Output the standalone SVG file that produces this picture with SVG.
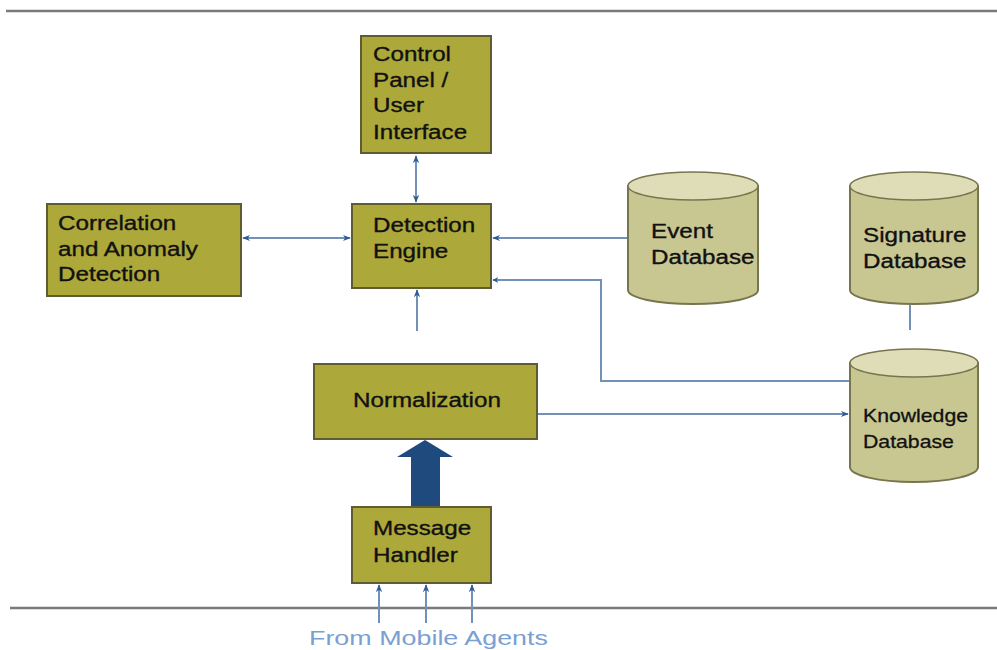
<svg xmlns="http://www.w3.org/2000/svg" width="997" height="650" viewBox="0 0 997 650">
  <style>
    .box { fill: #ADA83A; stroke: #5E5C30; stroke-width: 2; }
    .cyl { fill: #C9C791; stroke: #77754D; stroke-width: 2; }
    .cyltop { fill: #DEDDB7; stroke: #77754D; stroke-width: 1.5; }
    .lbl { font-family: "Liberation Sans", Arial, sans-serif; font-size: 20px; fill: #111; stroke: #111; stroke-width: 0.35; }
    .lbl-s { font-family: "Liberation Sans", Arial, sans-serif; font-size: 18px; fill: #111; stroke: #111; stroke-width: 0.3; }
    .link { fill: none; stroke: #7191B8; stroke-width: 2; }
    .rule { stroke: #7A7A7A; stroke-width: 2.5; }
    .src { font-family: "Liberation Sans", Arial, sans-serif; font-size: 21px; fill: #7A9FD2; }
  </style>
  <defs>
    <marker id="head" viewBox="0 0 10 10" refX="9" refY="5" markerWidth="6" markerHeight="6" orient="auto-start-reverse" markerUnits="userSpaceOnUse">
      <path d="M0,0 L10,5 L0,10 L3,5 Z" fill="#2D5B96"/>
    </marker>
    <marker id="headSmall" viewBox="0 0 10 10" refX="9" refY="5" markerWidth="8" markerHeight="8" orient="auto-start-reverse" markerUnits="userSpaceOnUse">
      <path d="M0,1 L10,5 L0,9 L3,5 Z" fill="#2D5B96"/>
    </marker>
  </defs>

  <!-- frame rules -->
  <line class="rule" x1="6" y1="11" x2="997" y2="11"/>
  <line class="rule" x1="10" y1="608" x2="997" y2="608"/>

  <!-- connectors -->
  <g id="connectors">
    <line class="link" x1="416" y1="156" x2="416" y2="202" marker-start="url(#headSmall)" marker-end="url(#headSmall)"/>
    <line class="link" x1="243" y1="238" x2="350" y2="238" marker-start="url(#headSmall)" marker-end="url(#headSmall)"/>
    <line class="link" x1="628" y1="238" x2="493" y2="238" marker-end="url(#headSmall)"/>
    <polyline class="link" points="850,381 601,381 601,280 493,280" marker-end="url(#head)"/>
    <line class="link" x1="417" y1="331" x2="417" y2="290" marker-end="url(#headSmall)"/>
    <line class="link" x1="538" y1="414" x2="848" y2="414" marker-end="url(#headSmall)"/>
    <line class="link" x1="910" y1="305" x2="910" y2="330"/>
    <line class="link" x1="379" y1="623" x2="379" y2="585" marker-end="url(#headSmall)"/>
    <line class="link" x1="426" y1="623" x2="426" y2="585" marker-end="url(#headSmall)"/>
    <line class="link" x1="472" y1="623" x2="472" y2="585" marker-end="url(#headSmall)"/>
    <!-- block arrow from message handler to normalization -->
    <path d="M411,507 L411,457 L397,457 L425,440 L453,457 L440,457 L440,507 Z" fill="#1F4A7E"/>
  </g>

  <!-- process boxes -->
  <g id="control-panel">
    <rect class="box" x="361" y="36" width="130" height="117"/>
    <text class="lbl" transform="translate(373,61) scale(1.21,1)">Control</text>
    <text class="lbl" transform="translate(373,87) scale(1.21,1)">Panel /</text>
    <text class="lbl" transform="translate(373,112) scale(1.21,1)">User</text>
    <text class="lbl" transform="translate(373,139) scale(1.21,1)">Interface</text>
  </g>

  <g id="correlation">
    <rect class="box" x="47" y="204" width="194" height="92"/>
    <text class="lbl" transform="translate(58,230) scale(1.21,1)">Correlation</text>
    <text class="lbl" transform="translate(58,256) scale(1.21,1)">and Anomaly</text>
    <text class="lbl" transform="translate(58,281) scale(1.21,1)">Detection</text>
  </g>

  <g id="detection-engine">
    <rect class="box" x="352" y="204" width="139" height="84"/>
    <text class="lbl" transform="translate(373,232) scale(1.21,1)">Detection</text>
    <text class="lbl" transform="translate(373,258) scale(1.21,1)">Engine</text>
  </g>

  <g id="normalization">
    <rect class="box" x="314" y="364" width="223" height="75"/>
    <text class="lbl" transform="translate(353,407) scale(1.21,1)">Normalization</text>
  </g>

  <g id="message-handler">
    <rect class="box" x="352" y="507" width="139" height="76"/>
    <text class="lbl" transform="translate(373,535) scale(1.21,1)">Message</text>
    <text class="lbl" transform="translate(373,562) scale(1.21,1)">Handler</text>
  </g>

  <!-- databases -->
  <g id="event-db">
    <path class="cyl" d="M628,186 L628,290 A65,14 0 0 0 758,290 L758,186 Z"/>
    <ellipse class="cyltop" cx="693" cy="186" rx="65" ry="14"/>
    <text class="lbl" transform="translate(651,238) scale(1.21,1)">Event</text>
    <text class="lbl" transform="translate(651,264) scale(1.21,1)">Database</text>
  </g>

  <g id="signature-db">
    <path class="cyl" d="M850,186 L850,290 A64,14 0 0 0 978,290 L978,186 Z"/>
    <ellipse class="cyltop" cx="914" cy="186" rx="64" ry="14"/>
    <text class="lbl" transform="translate(863,242) scale(1.21,1)">Signature</text>
    <text class="lbl" transform="translate(863,268) scale(1.21,1)">Database</text>
  </g>

  <g id="knowledge-db">
    <path class="cyl" d="M850,363 L850,467 A64,15 0 0 0 978,467 L978,363 Z"/>
    <ellipse class="cyltop" cx="914" cy="363" rx="64" ry="14"/>
    <text class="lbl-s" transform="translate(863,422) scale(1.18,1)">Knowledge</text>
    <text class="lbl-s" transform="translate(863,448) scale(1.18,1)">Database</text>
  </g>

  <text class="src" transform="translate(309,645) scale(1.28,1)">From Mobile Agents</text>
</svg>
